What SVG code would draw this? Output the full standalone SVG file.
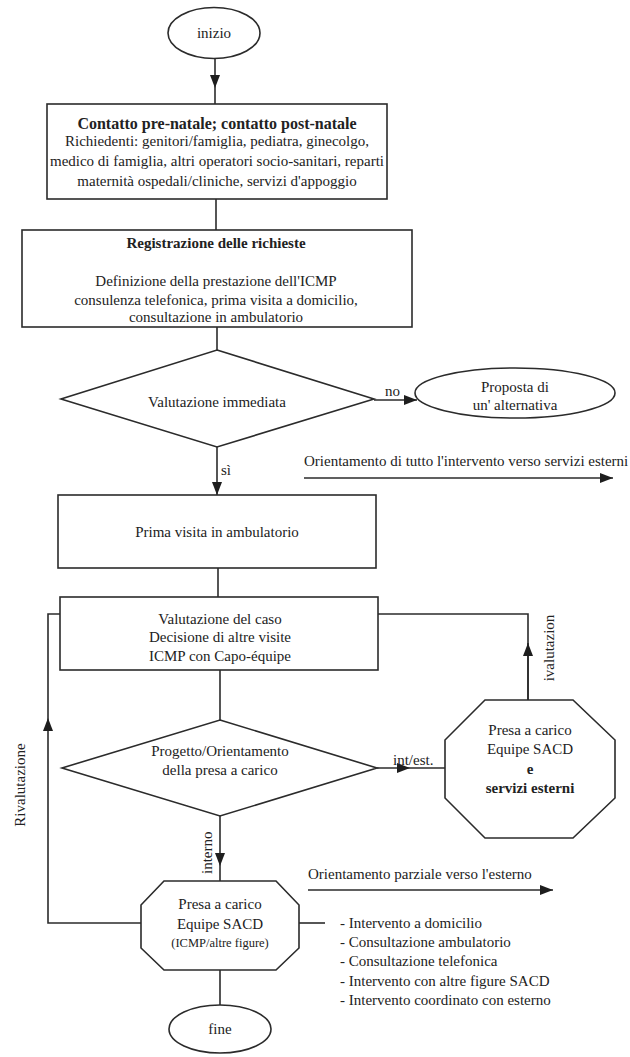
<svg xmlns="http://www.w3.org/2000/svg" width="630" height="1057" viewBox="0 0 630 1057">
<style>
.s{fill:#fff;stroke:#2b2b2b;stroke-width:1.6}
.c{fill:none;stroke:#2b2b2b;stroke-width:1.6}
.a{marker-end:url(#ah)}
text{font-family:"Liberation Serif","Times New Roman",serif;font-size:15px;fill:#222}
.m{text-anchor:middle}
.b{font-weight:bold}
</style>
<defs>
<marker id="ah" markerUnits="userSpaceOnUse" markerWidth="13" markerHeight="10" refX="13" refY="5" orient="auto">
<path d="M0,0 L13,5 L0,10 z" fill="#1e1e1e"/>
</marker>
</defs>
<rect width="630" height="1057" fill="#fff"/>
<g id="connectors">
<path class="c a" d="M215,58 L215,88"/>
<path class="c" d="M215,88 L215,104"/>
<path class="c" d="M216,199 L216,230"/>
<path class="c" d="M217,327 L217,350"/>
<path class="c a" d="M217,447 L217,495"/>
<path class="c a" d="M374,400 L417,400"/>
<path class="c a" d="M304,478 L613,478"/>
<path class="c" d="M218,568 L218,597"/>
<path class="c" d="M220,670 L220,720"/>
<path class="c a" d="M377,768 L410,768"/>
<path class="c" d="M410,768 L445,768"/>
<path class="c" d="M378,614 L528,614 L528,700"/>
<path class="c a" d="M528,700 L528,643"/>
<path class="c a" d="M141,923 L48,923 L48,718"/>
<path class="c" d="M48,718 L48,614 L60,614"/>
<path class="c a" d="M220,816 L220,866"/>
<path class="c" d="M220,866 L220,881"/>
<path class="c" d="M299,923 L325,923"/>
<path class="c a" d="M308,890 L553,890"/>
<path class="c" d="M220,970 L220,1005"/>
<text x="385" y="396">no</text>
<text x="221" y="475">sì</text>
<text x="393" y="765">int/est.</text>
<text transform="translate(554,648) rotate(-90)" class="m">ivalutazion</text>
<text transform="translate(25,785) rotate(-90)" class="m">Rivalutazione</text>
<text transform="translate(212,874) rotate(-90)">interno</text>
<text x="304" y="466">Orientamento di tutto l'intervento verso servizi esterni</text>
<text x="308" y="879">Orientamento parziale verso l'esterno</text>
</g>
<g id="inizio">
<ellipse class="s" cx="214" cy="33" rx="46" ry="25.5"/>
<text class="m" x="214" y="38">inizio</text>
</g>
<g id="contatto">
<rect class="s" x="47" y="104" width="340" height="95"/>
<text class="m b" x="217" y="129" style="font-size:16px">Contatto pre-natale; contatto post-natale</text>
<text class="m" x="217" y="146">Richiedenti: genitori/famiglia, pediatra, ginecolgo,</text>
<text class="m" x="217" y="166">medico di famiglia, altri operatori socio-sanitari, reparti</text>
<text class="m" x="217" y="186">maternità ospedali/cliniche, servizi d'appoggio</text>
</g>
<g id="registrazione">
<rect class="s" x="22" y="230" width="390" height="97"/>
<text class="m b" x="216" y="248">Registrazione delle richieste</text>
<text class="m" x="216" y="286">Definizione della prestazione dell'ICMP</text>
<text class="m" x="216" y="305">consulenza telefonica, prima visita a domicilio,</text>
<text class="m" x="216" y="322">consultazione in ambulatorio</text>
</g>
<g id="valutazione-immediata">
<polygon class="s" points="217,350 374,399 217,447 61,399"/>
<text class="m" x="217" y="407">Valutazione immediata</text>
</g>
<g id="proposta">
<ellipse class="s" cx="515" cy="393" rx="100" ry="25"/>
<text class="m" x="515" y="392">Proposta di</text>
<text class="m" x="515" y="410">un' alternativa</text>
</g>
<g id="prima-visita">
<rect class="s" x="58" y="495" width="318" height="73"/>
<text class="m" x="217" y="537">Prima visita in ambulatorio</text>
</g>
<g id="valutazione-caso">
<rect class="s" x="60" y="597" width="318" height="73"/>
<text class="m" x="220" y="624">Valutazione del caso</text>
<text class="m" x="220" y="642">Decisione di altre visite</text>
<text class="m" x="220" y="661">ICMP con Capo-équipe</text>
</g>
<g id="progetto">
<polygon class="s" points="220,720 377,768 220,816 62,768"/>
<text class="m" x="220" y="756">Progetto/Orientamento</text>
<text class="m" x="220" y="775">della presa a carico</text>
</g>
<g id="presa-esterni">
<polygon class="s" points="485,700 573,700 615,740 615,798 573,838 485,838 445,798 445,740"/>
<text class="m" x="530" y="735">Presa a carico</text>
<text class="m" x="530" y="754">Equipe SACD</text>
<text class="m b" x="530" y="774">e</text>
<text class="m b" x="530" y="793">servizi esterni</text>
</g>
<g id="presa-interno">
<polygon class="s" points="164,881 276,881 299,905 299,948 276,970 164,970 141,948 141,905"/>
<text class="m" x="220" y="909">Presa a carico</text>
<text class="m" x="220" y="929">Equipe SACD</text>
<text class="m" x="220" y="947" style="font-size:12.5px">(ICMP/altre figure)</text>
</g>
<g id="lista">
<text x="340" y="928">- Intervento a domicilio</text>
<text x="340" y="947">- Consultazione ambulatorio</text>
<text x="340" y="966">- Consultazione telefonica</text>
<text x="340" y="986">- Intervento con altre figure SACD</text>
<text x="340" y="1005">- Intervento coordinato con esterno</text>
</g>
<g id="fine">
<ellipse class="s" cx="220" cy="1029" rx="51" ry="24"/>
<text class="m" x="220" y="1034">fine</text>
</g>
</svg>
